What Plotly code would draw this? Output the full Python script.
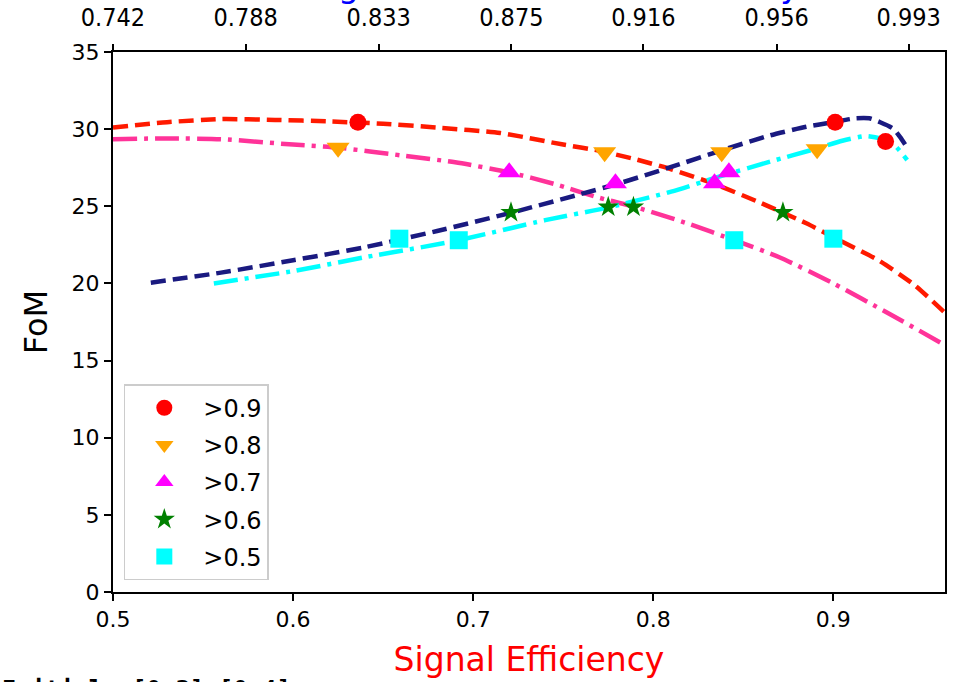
import plotly.graph_objects as go

# ---------------- data ----------------
red_x = [0.50, 0.53, 0.56, 0.59, 0.62, 0.65, 0.68, 0.715, 0.75, 0.77, 0.79, 0.81, 0.835, 0.86, 0.885, 0.90, 0.925, 0.945, 0.962]
red_y = [30.1, 30.45, 30.65, 30.6, 30.5, 30.35, 30.1, 29.75, 29.0, 28.6, 28.05, 27.4, 26.4, 25.2, 23.9, 23.0, 21.5, 19.9, 18.1]

pink_x = [0.50, 0.53, 0.56, 0.60, 0.625, 0.66, 0.69, 0.72, 0.745, 0.77, 0.79, 0.82, 0.845, 0.87, 0.90, 0.93, 0.962]
pink_y = [29.35, 29.4, 29.35, 29.0, 28.8, 28.3, 27.85, 27.2, 26.45, 25.55, 24.95, 23.85, 22.8, 21.7, 20.0, 18.1, 16.0]

navy_x = [0.521, 0.56, 0.60, 0.64, 0.68, 0.72, 0.76, 0.78, 0.81, 0.84, 0.865, 0.885, 0.90, 0.912, 0.92, 0.926, 0.933, 0.937, 0.941]
navy_y = [20.05, 20.7, 21.5, 22.35, 23.4, 24.55, 25.8, 26.45, 27.55, 28.7, 29.6, 30.15, 30.45, 30.7, 30.7, 30.45, 30.05, 29.5, 28.8]

cyan_x = [0.556, 0.60, 0.64, 0.69, 0.74, 0.776, 0.81, 0.836, 0.865, 0.891, 0.905, 0.918, 0.926, 0.934, 0.941]
cyan_y = [20.0, 20.8, 21.7, 22.75, 24.1, 24.95, 25.95, 26.9, 27.9, 28.75, 29.25, 29.55, 29.4, 28.95, 28.0]

thr_labels = [">0.9", ">0.8", ">0.7", ">0.6", ">0.5"]
m09_x = [0.636, 0.901, 0.929]
m09_y = [30.45, 30.45, 29.2]
m08_x = [0.625, 0.773, 0.838, 0.891]
m08_y = [28.8, 28.5, 28.5, 28.7]
m07_x = [0.720, 0.779, 0.834, 0.842]
m07_y = [27.2, 26.5, 26.5, 27.2]
m06_x = [0.721, 0.775, 0.789, 0.872]
m06_y = [24.6, 24.95, 24.95, 24.6]
m05_x = [0.659, 0.692, 0.845, 0.900]
m05_y = [22.9, 22.8, 22.8, 22.9]

x_ticks = [0.5, 0.6, 0.7, 0.8, 0.9]
y_ticks = [0, 5, 10, 15, 20, 25, 30, 35]
top_tick_pos = [0.5, 0.5737, 0.6475, 0.7212, 0.7945, 0.8685, 0.9418]
top_tick_text = ["0.742", "0.788", "0.833", "0.875", "0.916", "0.956", "0.993"]

# ---------------- figure ----------------
fig = go.Figure()

line_specs = [
    (red_x, red_y, "#ff1a00", "15px,7px"),
    (pink_x, pink_y, "#ff3399", "24px,7px,4px,7px"),
    (navy_x, navy_y, "#1a1a80", "15px,7px"),
    (cyan_x, cyan_y, "#00ffff", "24px,7px,4px,7px"),
]
for xs, ys, col, dash in line_specs:
    fig.add_trace(go.Scatter(x=xs, y=ys, mode="lines", showlegend=False,
                             line=dict(color=col, width=4.5, dash=dash, shape="spline", smoothing=0.6),
                             hoverinfo="skip"))

marker_specs = [
    (m09_x, m09_y, "circle", "#ff0000", 17),
    (m08_x, m08_y, "triangle-down", "#ffa500", 20),
    (m07_x, m07_y, "triangle-up", "#ff00ff", 20),
    (m06_x, m06_y, "star", "#008000", 16),
    (m05_x, m05_y, "square", "#00ffff", 18),
]
for (xs, ys, sym, col, sz), lab in zip(marker_specs, thr_labels):
    fig.add_trace(go.Scatter(x=xs, y=ys, mode="markers", name=lab, legendgroup=lab,
                             marker=dict(symbol=sym, color=col, size=sz, line=dict(width=0)),
                             cliponaxis=True))

# invisible trace to activate the top axis
fig.add_trace(go.Scatter(x=[top_tick_pos[0]], y=[0], xaxis="x2", mode="markers",
                         marker=dict(opacity=0), showlegend=False, hoverinfo="skip"))

fig.update_layout(
    width=959, height=682,
    margin=dict(l=113, r=14, t=52, b=90, autoexpand=False),
    paper_bgcolor="white", plot_bgcolor="white",
    font=dict(family="DejaVu Sans", color="black"),
    xaxis=dict(range=[0.5, 0.962], tickvals=x_ticks, ticktext=[f"{v:.1f}" for v in x_ticks],
               showgrid=False, zeroline=False, showline=True, linecolor="black", linewidth=2,
               mirror=True, ticks="outside", ticklen=7, tickwidth=1.5, tickcolor="black",
               automargin=False,
               tickfont=dict(size=22, family="DejaVu Sans"),
               title=dict(text="Signal Efficiency", font=dict(size=33, color="red"), standoff=16)),
    xaxis2=dict(range=[0.5, 0.962], overlaying="x", side="top", tickvals=top_tick_pos,
                ticktext=top_tick_text, showgrid=False, zeroline=False, showline=False,
                ticks="outside", ticklen=7, tickwidth=1.5, tickcolor="black",
                ticklabelstandoff=8, automargin=False,
                tickfont=dict(size=25, family="DejaVu Sans Condensed, DejaVu Sans")),
    yaxis=dict(range=[0, 35], tickvals=y_ticks, showgrid=False, zeroline=False,
               showline=True, linecolor="black", linewidth=2, mirror=True,
               ticks="outside", ticklen=7, tickwidth=1.5, tickcolor="black",
               automargin=False,
               tickfont=dict(size=22, family="DejaVu Sans"),
               title=dict(text="FoM", font=dict(size=32), standoff=14)),
    legend=dict(x=0.013, y=0.022, xanchor="left", yanchor="bottom",
                bgcolor="white", bordercolor="#cccccc", borderwidth=1.5,
                font=dict(size=24, family="DejaVu Sans"), traceorder="grouped",
                tracegroupgap=3, itemwidth=68),
    annotations=[
        dict(text="Background Reduction Efficiency", xref="paper", yref="paper",
             x=0.5, y=1 + (52 - 7) / 540, xanchor="center", yanchor="bottom",
             showarrow=False, font=dict(size=33, color="blue", family="DejaVu Sans")),
        dict(text="<b>Initial: [0.3] [0.4]</b>", xref="paper", yref="paper",
             x=-113 / 832, y=-(682 - 592 - 8) / 540, xanchor="left", yanchor="top",
             showarrow=False, font=dict(size=24, color="black", family="DejaVu Sans Mono")),
    ],
)

fig.write_html("out.html")
